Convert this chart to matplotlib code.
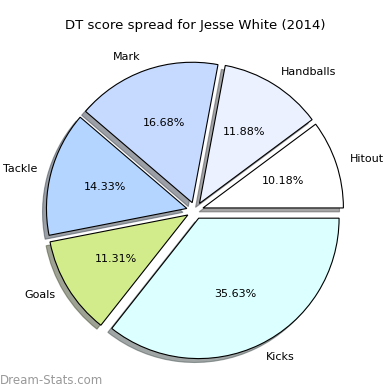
import matplotlib
matplotlib.use("Agg")
import matplotlib.pyplot as plt

labels = ["Hitout", "Handballs", "Mark", "Tackle", "Goals", "Kicks"]
values = [10.18, 11.88, 16.68, 14.33, 11.31, 35.63]
colors = ["#ffffff", "#ebf1ff", "#c6d9ff", "#b3d5ff", "#d2ec8c", "#dcffff"]

fig = plt.figure(figsize=(3.9, 3.9), dpi=100)
ax = fig.add_axes([0.05, 0.01, 0.9, 0.9])
wedges, texts, autotexts = ax.pie(values, labels=labels, colors=colors,
       explode=[0.06] * len(values), shadow=True, startangle=0,
       autopct="%.2f%%", pctdistance=0.6, labeldistance=1.1,
       wedgeprops=dict(edgecolor="black", linewidth=0.8),
       textprops=dict(fontsize=8))
ax.set_aspect("equal")
fig.text(0.5, 0.935, "DT score spread for Jesse White (2014)", ha="center", va="center", fontsize=9.5)
fig.text(0.0, 0.025, "Dream-Stats.com", ha="left", va="center", fontsize=8.5, color="#999999")
fig.savefig("out.png", dpi=100)
